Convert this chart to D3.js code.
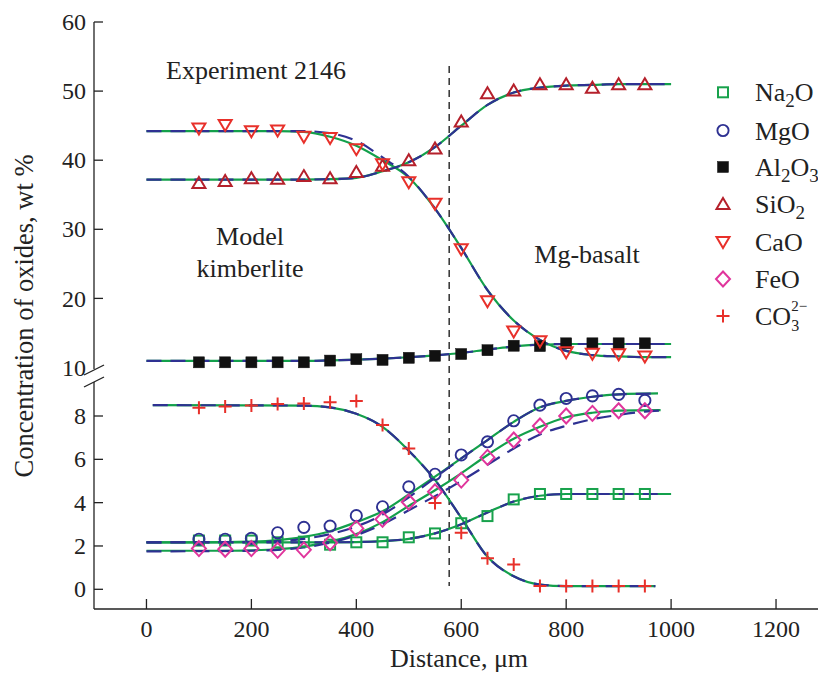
<!DOCTYPE html>
<html>
<head>
<meta charset="utf-8">
<script src="https://cdn.jsdelivr.net/npm/d3@7"></script>
<style>
  body { margin: 0; background: #fff; }
  svg { display: block; font-family: 'Liberation Serif', 'Times New Roman', serif; }
</style>
</head>
<body>
<svg id="chart" width="818" height="675"></svg>
<script>
// measured points (distance, um)
const distance = [100, 150, 200, 250, 300, 350, 400, 450, 500, 550, 600, 650, 700, 750, 800, 850, 900, 950]
const na2o = [2.25, 2.25, 2.25, 2.17, 2.2, 2.06, 2.17, 2.17, 2.4, 2.58, 3.05, 3.38, 4.15, 4.4, 4.4, 4.4, 4.4, 4.4]
const mgo = [2.31, 2.31, 2.35, 2.61, 2.86, 2.92, 3.4, 3.81, 4.73, 5.31, 6.2, 6.81, 7.78, 8.5, 8.81, 8.93, 9.0, 8.72]
const al2o3 = [10.75, 10.75, 10.75, 10.75, 10.75, 11.0, 11.2, 11.1, 11.4, 11.7, 11.95, 12.5, 13.15, 13.1, 13.5, 13.5, 13.5, 13.5]
const sio2 = [36.7, 37.0, 37.4, 37.3, 37.7, 37.4, 38.3, 39.2, 40.0, 41.7, 45.6, 49.7, 50.1, 51.0, 51.0, 50.5, 51.0, 51.0]
const cao = [44.6, 45.1, 44.2, 44.3, 43.4, 43.2, 41.6, 39.4, 36.8, 33.7, 27.1, 19.6, 15.2, 13.8, 12.2, 12.0, 11.9, 11.6]
const feo = [1.88, 1.85, 1.88, 1.8, 1.82, 2.15, 2.81, 3.23, 4.03, 4.5, 5.04, 6.09, 6.89, 7.54, 8.0, 8.12, 8.24, 8.24]
const co3 = [8.38, 8.44, 8.49, 8.55, 8.58, 8.64, 8.69, 7.58, 6.5, 3.98, 2.61, 1.43, 1.15, 0.15, 0.15, 0.15, 0.15, 0.15]

// fitted curves [distance, value]: solid = fit, dashed = model
const sio2Fit = [[0, 37.2], [300, 37.2], [350, 37.25], [400, 37.45], [450, 38.4], [500, 39.7], [550, 41.9], [600, 45.0], [650, 48.0], [700, 49.8], [750, 50.5], [800, 50.8], [850, 50.9], [900, 51.0], [1000, 51.0]]
const sio2Model = sio2Fit
const caoFit = [[0, 44.2], [250, 44.2], [300, 44.1], [350, 43.4], [400, 42.1], [450, 40.0], [500, 37.5], [550, 33.0], [600, 27.3], [650, 21.2], [700, 16.8], [750, 14.0], [800, 12.4], [850, 11.8], [900, 11.6], [950, 11.5], [1000, 11.5]]
const caoModel = [[0, 44.2], [300, 44.2], [350, 43.9], [400, 42.8], [450, 40.4], [500, 37.6], [550, 33.0], [600, 27.3], [650, 21.2], [700, 16.8], [750, 14.0], [800, 12.4], [850, 11.8], [900, 11.6], [950, 11.5], [1000, 11.5]]
const al2o3Fit = [[0, 10.95], [300, 10.95], [350, 11.03], [400, 11.13], [450, 11.28], [500, 11.48], [550, 11.75], [600, 12.1], [650, 12.6], [700, 13.05], [750, 13.3], [800, 13.4], [1000, 13.4]]
const al2o3Model = al2o3Fit
const na2oFit = [[0, 2.17], [350, 2.17], [400, 2.18], [450, 2.22], [500, 2.33], [550, 2.58], [600, 3.0], [650, 3.55], [700, 4.05], [750, 4.32], [800, 4.4], [1000, 4.4]]
const na2oModel = [[0, 2.17], [350, 2.17], [400, 2.18], [450, 2.22], [500, 2.33], [550, 2.58], [600, 3.0], [650, 3.55], [700, 4.05], [750, 4.32], [800, 4.4], [975, 4.4]]
const mgoFit = [[0, 2.17], [100, 2.17], [200, 2.2], [250, 2.27], [300, 2.42], [350, 2.68], [400, 3.1], [450, 3.6], [500, 4.38], [550, 5.2], [600, 6.04], [650, 6.89], [700, 7.73], [750, 8.4], [800, 8.7], [850, 8.89], [900, 9.0], [975, 9.04]]
const mgoModel = [[0, 2.17], [200, 2.18], [250, 2.22], [300, 2.33], [350, 2.55], [400, 2.9], [450, 3.45], [500, 4.25], [550, 5.15], [600, 6.04], [650, 6.89], [700, 7.73], [750, 8.4], [800, 8.7], [850, 8.89], [900, 9.0], [975, 9.04]]
const feoFit = [[0, 1.78], [150, 1.78], [200, 1.8], [250, 1.85], [300, 1.97], [350, 2.2], [400, 2.55], [450, 3.1], [500, 3.85], [550, 4.57], [600, 5.35], [650, 6.2], [700, 6.95], [750, 7.5], [800, 7.94], [850, 8.15], [900, 8.25], [980, 8.27]]
const feoModel = [[0, 1.75], [200, 1.78], [300, 1.93], [350, 2.15], [400, 2.5], [450, 3.0], [500, 3.65], [550, 4.3], [600, 5.0], [650, 5.75], [700, 6.5], [750, 7.15], [800, 7.55], [850, 7.85], [900, 8.05], [950, 8.2], [980, 8.25]]
const co3Fit = [[12, 8.5], [300, 8.48], [350, 8.4], [400, 8.1], [450, 7.5], [500, 6.4], [550, 5.05], [600, 3.3], [650, 1.5], [700, 0.6], [750, 0.22], [800, 0.15], [970, 0.15]]
const co3Model = co3Fit

const xTicks = [0, 200, 400, 600, 800, 1000, 1200]
const yTopTicks = [20, 30, 40, 50, 60]
const yBotTicks = [0, 2, 4, 6, 8]
const interfaceAt = 577

const green = '#13a04b'
const blue = '#2e3192'

const svg = d3.select('#chart')

const x = d3.scaleLinear().domain([-100, 1280]).range([94, 818])
const yTop = d3.scaleLinear().domain([10, 60]).range([367.5, 22])
const yBot = d3.scaleLinear().domain([0, 8]).range([589.3, 416])

// axes lines
const axisG = svg.append('g').attr('stroke', '#222').attr('stroke-width', 1.3).attr('fill', 'none')
axisG.append('line').attr('x1', 94).attr('x2', 94).attr('y1', 22).attr('y2', 369)
axisG.append('line').attr('x1', 94).attr('x2', 94).attr('y1', 382).attr('y2', 609)
axisG.append('line').attr('x1', 94).attr('x2', 818).attr('y1', 609).attr('y2', 609)
// break marks
axisG.append('line').attr('x1', 84).attr('y1', 375).attr('x2', 104).attr('y2', 365)
axisG.append('line').attr('x1', 84).attr('y1', 387).attr('x2', 104).attr('y2', 377)

// ticks (inward)
axisG.selectAll('.yt').data(yTopTicks).enter().append('line')
  .attr('x1', 94).attr('x2', 103).attr('y1', (d) => yTop(d)).attr('y2', (d) => yTop(d))
axisG.selectAll('.yb').data(yBotTicks).enter().append('line')
  .attr('x1', 94).attr('x2', 103).attr('y1', (d) => yBot(d)).attr('y2', (d) => yBot(d))
axisG.selectAll('.xt').data(xTicks).enter().append('line')
  .attr('x1', (d) => x(d)).attr('x2', (d) => x(d)).attr('y1', 609).attr('y2', 599)

const label = svg.append('g').attr('fill', '#222').attr('font-size', 24)
label.selectAll('.xl').data(xTicks).enter().append('text')
  .attr('x', (d) => x(d)).attr('y', 637).attr('text-anchor', 'middle').text((d) => d)
label.selectAll('.ytl').data(yTopTicks.concat([10])).enter().append('text')
  .attr('x', 86).attr('y', (d) => yTop(d)).attr('dy', '0.34em').attr('text-anchor', 'end').text((d) => d)
label.selectAll('.ybl').data(yBotTicks).enter().append('text')
  .attr('x', 86).attr('y', (d) => yBot(d)).attr('dy', '0.34em').attr('text-anchor', 'end').text((d) => d)

// titles
svg.append('text').attr('x', 459).attr('y', 667).attr('text-anchor', 'middle')
  .attr('font-size', 26).attr('fill', '#222').text('Distance, μm')
svg.append('text').attr('transform', 'translate(33,316) rotate(-90)').attr('text-anchor', 'middle')
  .attr('font-size', 26.5).attr('fill', '#222').text('Concentration of oxides, wt %')

// annotations
svg.append('text').attr('x', 256).attr('y', 79).attr('text-anchor', 'middle').attr('font-size', 26).attr('fill', '#222').text('Experiment 2146')
svg.append('text').attr('x', 250).attr('y', 245).attr('text-anchor', 'middle').attr('font-size', 26).attr('fill', '#222').text('Model')
svg.append('text').attr('x', 250).attr('y', 277).attr('text-anchor', 'middle').attr('font-size', 26).attr('fill', '#222').text('kimberlite')
svg.append('text').attr('x', 587).attr('y', 263).attr('text-anchor', 'middle').attr('font-size', 26).attr('fill', '#222').text('Mg-basalt')

// interface line
svg.append('line').attr('x1', x(interfaceAt)).attr('x2', x(interfaceAt)).attr('y1', 66).attr('y2', 586)
  .attr('stroke', '#222').attr('stroke-width', 1.4).attr('stroke-dasharray', '7,5')

// curves
const curves = [
  { fit: sio2Fit, model: sio2Model, y: yTop },
  { fit: caoFit, model: caoModel, y: yTop },
  { fit: al2o3Fit, model: al2o3Model, y: yTop },
  { fit: na2oFit, model: na2oModel, y: yBot },
  { fit: mgoFit, model: mgoModel, y: yBot },
  { fit: feoFit, model: feoModel, y: yBot },
  { fit: co3Fit, model: co3Model, y: yBot }
]
const curveG = svg.append('g').attr('fill', 'none').attr('stroke-width', 2.2)
curves.forEach((c) => {
  const line = d3.line().x((d) => x(d[0])).y((d) => c.y(d[1])).curve(d3.curveMonotoneX)
  curveG.append('path').attr('d', line(c.fit)).attr('stroke', green)
})
curves.forEach((c) => {
  const line = d3.line().x((d) => x(d[0])).y((d) => c.y(d[1])).curve(d3.curveMonotoneX)
  curveG.append('path').attr('d', line(c.model)).attr('stroke', blue).attr('stroke-dasharray', '15,9')
})

// marker shapes
const shapes = {
  square: (g, color) => g.append('rect').attr('x', -5).attr('y', -5).attr('width', 10).attr('height', 10)
    .attr('fill', 'none').attr('stroke', color).attr('stroke-width', 2),
  circle: (g, color) => g.append('circle').attr('r', 5.6)
    .attr('fill', 'none').attr('stroke', color).attr('stroke-width', 1.9),
  filled: (g, color) => g.append('rect').attr('x', -5.5).attr('y', -5.5).attr('width', 11).attr('height', 11)
    .attr('fill', color).attr('stroke', color).attr('stroke-width', 0.5),
  up: (g, color) => g.append('path').attr('d', 'M0,-6L6.5,5L-6.5,5Z')
    .attr('fill', 'none').attr('stroke', color).attr('stroke-width', 2),
  down: (g, color) => g.append('path').attr('d', 'M0,6L6.5,-5L-6.5,-5Z')
    .attr('fill', 'none').attr('stroke', color).attr('stroke-width', 2),
  diamond: (g, color) => g.append('path').attr('d', 'M0,-7.5L7,0L0,7.5L-7,0Z')
    .attr('fill', 'none').attr('stroke', color).attr('stroke-width', 2),
  plus: (g, color) => g.append('path').attr('d', 'M-6.5,0H6.5M0,-6.5V6.5')
    .attr('fill', 'none').attr('stroke', color).attr('stroke-width', 2)
}

const series = [
  { name: 'Na2O', values: na2o, y: yBot, shape: 'square', color: '#18a24c' },
  { name: 'MgO', values: mgo, y: yBot, shape: 'circle', color: '#2e3192' },
  { name: 'Al2O3', values: al2o3, y: yTop, shape: 'filled', color: '#111111' },
  { name: 'SiO2', values: sio2, y: yTop, shape: 'up', color: '#b5202b' },
  { name: 'CaO', values: cao, y: yTop, shape: 'down', color: '#e8302a' },
  { name: 'FeO', values: feo, y: yBot, shape: 'diamond', color: '#e0359c' },
  { name: 'CO3', values: co3, y: yBot, shape: 'plus', color: '#e8302a' }
]

const pointG = svg.append('g')
series.forEach((s) => {
  s.values.forEach((v, i) => {
    const g = pointG.append('g').attr('transform', `translate(${x(distance[i])},${s.y(v)})`)
    shapes[s.shape](g, s.color)
  })
})

// legend
const legendY = [92.3, 130.5, 167, 204, 242, 279, 316]
const legend = svg.append('g')
series.forEach((s, i) => {
  const g = legend.append('g').attr('transform', `translate(723,${legendY[i]})`)
  shapes[s.shape](g, s.color)
})
const legendText = [
  [['Na', 0], ['2', 1], ['O', 0]],
  [['MgO', 0]],
  [['Al', 0], ['2', 1], ['O', 0], ['3', 1]],
  [['Si', 0], ['O', 0], ['2', 1]],
  [['CaO', 0]],
  [['FeO', 0]],
  [['CO', 0]]
]
legendText.forEach((parts, i) => {
  const t = legend.append('text').attr('x', 755).attr('y', legendY[i] + 9).attr('font-size', 26).attr('fill', '#222')
  let shifted = false
  parts.forEach(([str, sub]) => {
    const ts = t.append('tspan').text(str)
    if (sub && !shifted) { ts.attr('dy', 6).attr('font-size', 19); shifted = true }
    else if (!sub && shifted) { ts.attr('dy', -6); shifted = false }
  })
  if (i === 6) {
    // stacked sub/superscript for carbonate
    const w = t.node().getComputedTextLength()
    legend.append('text').attr('x', 755 + w).attr('y', legendY[i] + 15).attr('font-size', 16).attr('fill', '#222').text('3')
    legend.append('text').attr('x', 755 + w).attr('y', legendY[i] - 5).attr('font-size', 15).attr('fill', '#222').text('2−')
  }
})
</script>
</body>
</html>
